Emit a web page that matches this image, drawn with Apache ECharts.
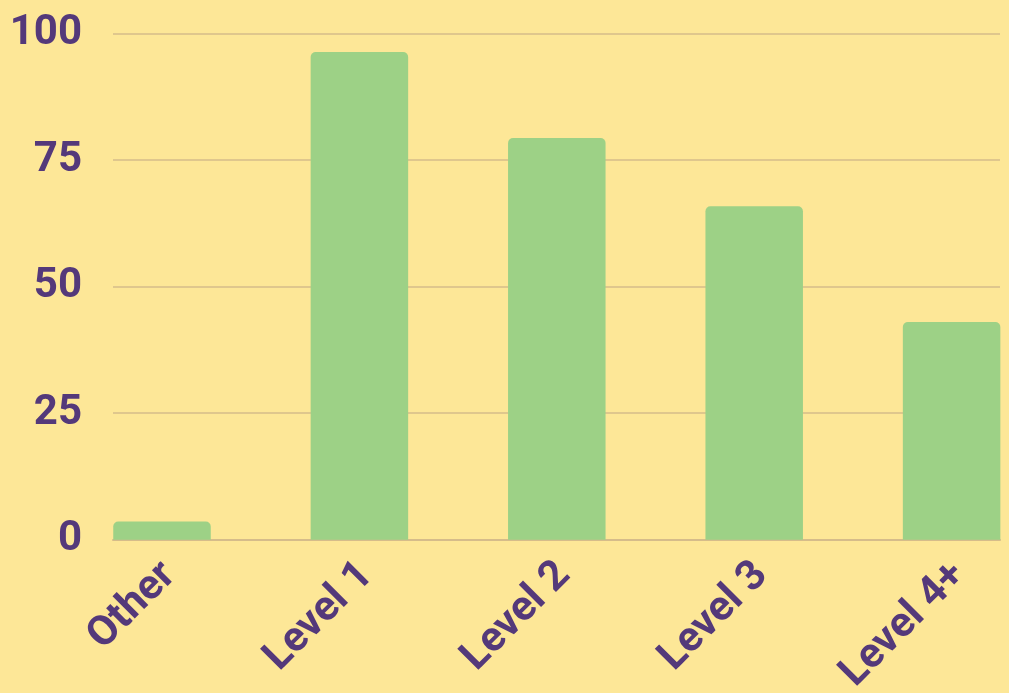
<!DOCTYPE html>
<html>
<head>
<meta charset="utf-8">
<script src="https://cdn.jsdelivr.net/npm/echarts@6/dist/echarts.min.js"></script>
<style>
html,body{margin:0;padding:0;background:#FDE797;}
#chart{width:1009px;height:693px;}
</style>
</head>
<body>
<div id="chart"></div>
<script>
const categories = ['Other', 'Level 1', 'Level 2', 'Level 3', 'Level 4+'];
const values = [3.6, 96.4, 79.4, 65.9, 43.0];
const yTicks = [0, 25, 50, 75, 100];

const textColor = '#54397A';
const gridColor = '#D5BC8A';
const barColor = '#9DD186';
const font = 'Roboto';

const chart = echarts.init(document.getElementById('chart'));
chart.setOption({
  backgroundColor: '#FDE797',
  animation: false,
  grid: [
    { left: 113, right: 9, top: 33.7, bottom: 153.3, containLabel: false, outerBoundsMode: 'none' },
    { left: 63.3, width: 987, top: 33.7, bottom: 153.3, containLabel: false, outerBoundsMode: 'none' }
  ],
  xAxis: [
    { gridIndex: 0, type: 'category', data: categories, show: true,
      axisLine: { show: true, lineStyle: { color: gridColor, width: 2 } },
      axisTick: { show: false }, axisLabel: { show: false }, z: 1 },
    { gridIndex: 1, type: 'category', data: categories,
      axisLine: { show: false }, axisTick: { show: false },
      axisLabel: { rotate: 45, margin: 22, color: textColor, fontFamily: font,
        fontWeight: 'bold', fontSize: 42, interval: 0,
        formatter: v => '{a|' + v + '}',
        rich: { a: { color: textColor, fontFamily: font, fontWeight: 'bold', fontSize: 42,
          lineHeight: 50, padding: [21, 0, 0, 0] } } } }
  ],
  yAxis: [
    { gridIndex: 0, type: 'value', min: yTicks[0], max: yTicks[yTicks.length - 1], interval: 25,
      axisLine: { show: false }, axisTick: { show: false },
      splitLine: { lineStyle: { color: gridColor, width: 1.5 } },
      axisLabel: { margin: 31, color: textColor, fontFamily: font, fontWeight: 'bold', fontSize: 42 } },
    { gridIndex: 1, type: 'value', min: yTicks[0], max: yTicks[yTicks.length - 1], show: false,
      splitLine: { show: false } }
  ],
  series: [{
    type: 'bar', xAxisIndex: 1, yAxisIndex: 1, data: values, barWidth: 97.5,
    itemStyle: { color: barColor, borderRadius: [5, 5, 0, 0] }, z: 3
  }]
});
</script>
</body>
</html>
